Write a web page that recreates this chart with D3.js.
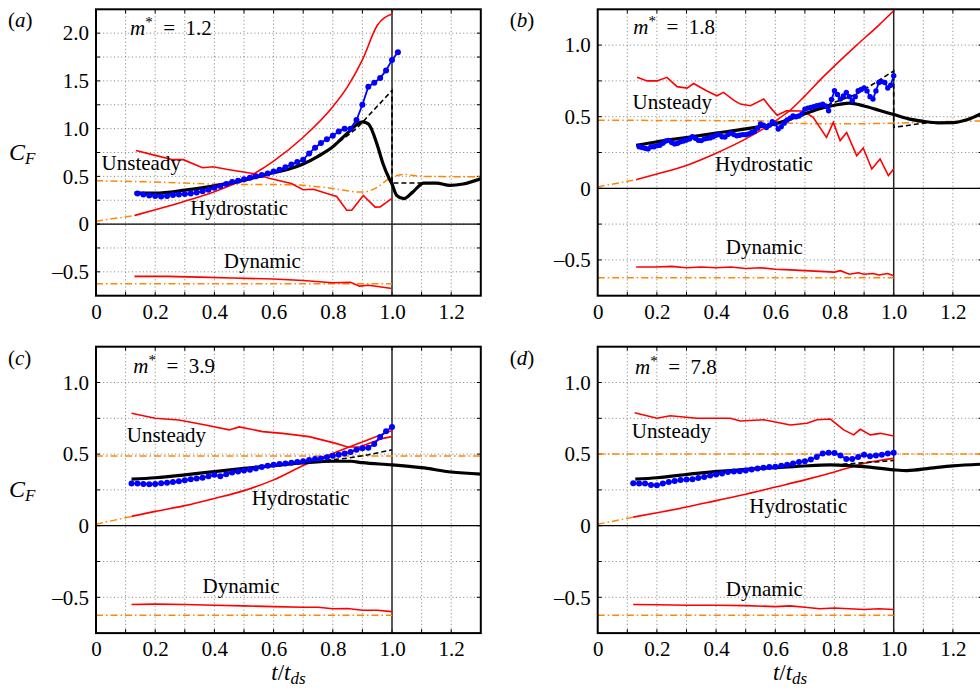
<!DOCTYPE html>
<html>
<head>
<meta charset="utf-8">
<script src="https://cdn.jsdelivr.net/npm/d3@7"></script>
</head>
<body style="margin:0">
<svg id="fig" width="980" height="694"></svg>
<script>
// force coefficient panels, m* = 1.2, 1.8, 3.9, 7.8

var FONT = "Liberation Serif";
var PLOT_W = 384.8;
var PLOT_H = 286.4;
var RED = "#ff0000";
var BLUE = "#0000ff";
var ORANGE = "#ff8800";

var xTickLabels = [0, 0.2, 0.4, 0.6, 0.8, 1.0, 1.2];
var xGrid = [0.1, 0.2, 0.3, 0.4, 0.5, 0.6, 0.7, 0.8, 0.9, 1.1, 1.2];
var yTickLabelsA = [-0.5, 0, 0.5, 1.0, 1.5, 2.0];
var yTickLabels = [-0.5, 0, 0.5, 1.0];

// ---- (a) m* = 1.2
var hydroA = [[0.13,0.09],[0.2,0.15],[0.3,0.24],[0.4,0.34],[0.5,0.47],[0.6,0.66],[0.7,0.91],[0.8,1.23],[0.85,1.44],[0.9,1.72],[0.95,2.08],[1.0,2.20]];
var hydroModelA = [[0,0.03],[0.13,0.09]];
var unsteadyA = [[0.135,0.77],[0.2,0.72],[0.26,0.675],[0.295,0.675],[0.36,0.59],[0.395,0.60],[0.45,0.57],[0.53,0.53],[0.585,0.48],[0.66,0.425],[0.70,0.36],[0.735,0.365],[0.78,0.32],[0.813,0.29],[0.847,0.145],[0.864,0.145],[0.903,0.30],[0.943,0.178],[0.96,0.18],[1.0,0.27]];
var unsteadyModelA = [[0,0.455],[0.2,0.44],[0.42,0.418],[0.66,0.412],[0.77,0.385],[0.9,0.335],[0.95,0.385],[0.99,0.475],[1.04,0.52],[1.1,0.50],[1.3,0.495]];
var dynamicA = [[0.13,-0.548],[0.24,-0.548],[0.35,-0.555],[0.46,-0.565],[0.6,-0.575],[0.7,-0.59],[0.8,-0.615],[0.86,-0.61],[0.89,-0.65],[0.92,-0.64],[0.94,-0.648],[1.0,-0.675]];
var dynamicModelA = [[0,-0.625],[1.0,-0.625]];
var totalModelA = [[0.13,0.325],[0.2,0.325],[0.3,0.355],[0.4,0.40],[0.5,0.46],[0.6,0.54],[0.65,0.575],[0.7,0.63],[0.75,0.71],[0.8,0.81],[0.85,0.955],[0.9,1.07],[0.92,1.05],[0.95,0.83],[0.97,0.63],[0.99,0.48],[1.0,0.42],[1.016,0.30],[1.04,0.266],[1.07,0.335],[1.107,0.43],[1.15,0.43],[1.196,0.405],[1.24,0.42],[1.3,0.475]];
var modelSumA = [[0.8,0.81],[0.88,1.0],[0.94,1.2],[1.0,1.4],[1.0,0.43],[1.1,0.43]];
var measuredA = [0.32,0.31,0.30,0.295,0.29,0.295,0.305,0.31,0.315,0.32,0.33,0.345,0.36,0.38,0.40,0.42,0.44,0.455,0.47,0.485,0.50,0.515,0.53,0.55,0.57,0.595,0.625,0.65,0.675,0.74,0.80,0.85,0.89,0.925,0.97,1.0,1.0,1.09,1.25,1.44,1.48,1.53,1.61,1.72,1.80];

// ---- (b) m* = 1.8
var hydroB = [[0.13,0.06],[0.2,0.10],[0.3,0.16],[0.4,0.245],[0.5,0.345],[0.6,0.47],[0.65,0.545],[0.7,0.645],[0.76,0.775],[0.8,0.855],[0.875,1.0],[0.95,1.14],[1.0,1.24]];
var hydroModelB = [[0,0.01],[0.13,0.06]];
var unsteadyB = [[0.133,0.775],[0.167,0.75],[0.2,0.75],[0.234,0.775],[0.268,0.71],[0.302,0.70],[0.324,0.732],[0.369,0.68],[0.403,0.646],[0.425,0.67],[0.459,0.616],[0.482,0.588],[0.516,0.577],[0.561,0.623],[0.583,0.565],[0.606,0.51],[0.638,0.542],[0.694,0.54],[0.728,0.495],[0.773,0.356],[0.796,0.46],[0.819,0.333],[0.841,0.39],[0.875,0.228],[0.897,0.282],[0.926,0.135],[0.954,0.205],[0.982,0.089],[1.0,0.135]];
var unsteadyModelB = [[0,0.475],[0.6,0.47],[0.65,0.455],[0.8,0.45],[1.0,0.455],[1.1,0.462],[1.3,0.47]];
var dynamicB = [[0.13,-0.55],[0.2,-0.55],[0.25,-0.545],[0.3,-0.555],[0.35,-0.55],[0.4,-0.555],[0.45,-0.55],[0.5,-0.56],[0.55,-0.555],[0.6,-0.565],[0.65,-0.57],[0.7,-0.575],[0.75,-0.58],[0.8,-0.585],[0.82,-0.575],[0.85,-0.6],[0.88,-0.59],[0.9,-0.6],[0.93,-0.595],[0.95,-0.605],[0.98,-0.595],[1.0,-0.61]];
var dynamicModelB = [[0,-0.625],[1.0,-0.625]];
var totalModelB = [[0.13,0.30],[0.2,0.325],[0.3,0.355],[0.4,0.385],[0.5,0.415],[0.6,0.45],[0.7,0.52],[0.75,0.555],[0.8,0.58],[0.85,0.595],[0.9,0.575],[0.95,0.545],[1.0,0.515],[1.05,0.485],[1.1,0.468],[1.15,0.457],[1.2,0.458],[1.25,0.48],[1.3,0.525]];
var modelSumB = [[0.7,0.52],[0.8,0.60],[0.875,0.658],[0.94,0.74],[1.0,0.82],[1.0,0.425],[1.1,0.455],[1.15,0.462]];
var measuredB = [0.29,0.285,0.28,0.275,0.29,0.29,0.298,0.30,0.315,0.33,0.335,0.32,0.31,0.315,0.325,0.33,0.337,0.345,0.36,0.35,0.335,0.333,0.345,0.35,0.352,0.36,0.37,0.375,0.36,0.358,0.375,0.385,0.375,0.367,0.37,0.375,0.374,0.38,0.39,0.397,0.42,0.449,0.44,0.425,0.44,0.465,0.45,0.414,0.43,0.455,0.477,0.49,0.505,0.50,0.505,0.52,0.553,0.56,0.565,0.57,0.577,0.58,0.588,0.575,0.542,0.62,0.681,0.655,0.623,0.645,0.669,0.64,0.611,0.64,0.681,0.69,0.70,0.68,0.64,0.623,0.68,0.739,0.745,0.739,0.70,0.72,0.786];

// ---- (c) m* = 3.9
var hydroC = [[0.12,0.065],[0.2,0.10],[0.3,0.14],[0.4,0.19],[0.5,0.245],[0.6,0.32],[0.7,0.42],[0.8,0.505],[0.9,0.585],[1.0,0.665]];
var hydroModelC = [[0,0.01],[0.12,0.065]];
var unsteadyC = [[0.12,0.785],[0.2,0.75],[0.28,0.738],[0.37,0.703],[0.45,0.669],[0.484,0.69],[0.563,0.657],[0.63,0.645],[0.72,0.622],[0.81,0.575],[0.85,0.55],[0.89,0.55],[0.935,0.585],[0.97,0.61],[1.0,0.622]];
var unsteadyModelC = [[0,0.487],[1.3,0.487]];
var dynamicC = [[0.12,-0.55],[0.2,-0.548],[0.3,-0.55],[0.4,-0.555],[0.5,-0.56],[0.6,-0.565],[0.7,-0.57],[0.75,-0.57],[0.8,-0.58],[0.85,-0.578],[0.9,-0.59],[0.95,-0.59],[1.0,-0.60]];
var dynamicModelC = [[0,-0.625],[1.0,-0.625]];
var totalModelC = [[0.12,0.325],[0.2,0.335],[0.3,0.355],[0.4,0.378],[0.5,0.40],[0.6,0.42],[0.7,0.438],[0.8,0.45],[0.86,0.45],[0.9,0.44],[1.0,0.425],[1.1,0.405],[1.2,0.375],[1.3,0.36]];
var modelSumC = [[0.75,0.45],[0.85,0.472],[0.92,0.495],[1.0,0.53]];
var measuredC = [0.295,0.295,0.292,0.29,0.292,0.296,0.30,0.305,0.31,0.318,0.325,0.33,0.335,0.345,0.355,0.345,0.36,0.372,0.378,0.385,0.39,0.40,0.41,0.418,0.425,0.43,0.435,0.44,0.445,0.45,0.458,0.465,0.47,0.478,0.488,0.495,0.505,0.515,0.53,0.54,0.545,0.57,0.62,0.66,0.69];

// ---- (d) m* = 7.8
var hydroD = [[0.12,0.06],[0.2,0.09],[0.3,0.13],[0.4,0.175],[0.5,0.22],[0.6,0.27],[0.7,0.32],[0.8,0.375],[0.9,0.435],[1.0,0.47]];
var hydroModelD = [[0,0.01],[0.12,0.06]];
var unsteadyD = [[0.125,0.789],[0.2,0.75],[0.245,0.768],[0.335,0.75],[0.448,0.75],[0.482,0.731],[0.561,0.74],[0.651,0.703],[0.707,0.715],[0.741,0.74],[0.786,0.745],[0.831,0.669],[0.865,0.634],[0.887,0.673],[0.921,0.634],[0.955,0.645],[1.0,0.627]];
var unsteadyModelD = [[0,0.50],[1.3,0.50]];
var dynamicD = [[0.12,-0.55],[0.2,-0.552],[0.3,-0.555],[0.4,-0.555],[0.5,-0.558],[0.6,-0.565],[0.65,-0.56],[0.7,-0.57],[0.75,-0.58],[0.8,-0.575],[0.85,-0.58],[0.9,-0.585],[0.95,-0.58],[1.0,-0.585]];
var dynamicModelD = [[0,-0.625],[1.0,-0.625]];
var totalModelD = [[0.127,0.325],[0.2,0.335],[0.335,0.366],[0.45,0.385],[0.561,0.402],[0.68,0.415],[0.786,0.425],[0.85,0.42],[0.899,0.413],[1.0,0.39],[1.045,0.385],[1.124,0.402],[1.2,0.418],[1.3,0.43]];
var modelSumD = [[0.8,0.425],[0.9,0.44],[1.0,0.455]];
var measuredD = [0.297,0.295,0.294,0.285,0.282,0.295,0.305,0.312,0.32,0.322,0.325,0.333,0.34,0.35,0.358,0.365,0.375,0.378,0.38,0.386,0.392,0.40,0.405,0.41,0.412,0.418,0.425,0.435,0.445,0.45,0.462,0.48,0.505,0.51,0.508,0.49,0.465,0.465,0.48,0.495,0.485,0.49,0.495,0.505,0.51];

// sample times of the measured (dotted) series
function sampleTimes(start, step, n) {
	return d3.range(n).map(function(i) { return +(start + i * step).toFixed(3); });
}

function zipT(times, vals) {
	return vals.map(function(v, i) { return [times[i], v]; });
}

var panels = [
	{ id: "a", mstar: "1.2", left: 96, top: 9.3, yDomain: [-0.75, 2.25], yTicks: yTickLabelsA, yLabel: true, xLabel: false,
	  hydro: hydroA, hydroModel: hydroModelA, unsteady: unsteadyA, unsteadyModel: unsteadyModelA,
	  dynamic: dynamicA, dynamicModel: dynamicModelA, total: totalModelA, sum: modelSumA,
	  measured: zipT(sampleTimes(0.14, 0.02, measuredA.length), measuredA), dotR: 3,
	  txt: { u: [0.019, 0.563], h: [0.318, 0.091], d: [0.432, -0.464], m: [0.115, 1.978] } },
	{ id: "b", mstar: "1.8", left: 597.7, top: 9.3, yDomain: [-0.75, 1.25], yTicks: yTickLabels, yLabel: false, xLabel: false,
	  hydro: hydroB, hydroModel: hydroModelB, unsteady: unsteadyB, unsteadyModel: unsteadyModelB,
	  dynamic: dynamicB, dynamicModel: dynamicModelB, total: totalModelB, sum: modelSumB,
	  measured: zipT(sampleTimes(0.14, 0.01, measuredB.length), measuredB), dotR: 2.7,
	  txt: { u: [0.118, 0.554], h: [0.396, 0.123], d: [0.433, -0.458], m: [0.12, 1.077] } },
	{ id: "c", mstar: "3.9", left: 96, top: 346.7, yDomain: [-0.75, 1.25], yTicks: yTickLabels, yLabel: true, xLabel: true,
	  hydro: hydroC, hydroModel: hydroModelC, unsteady: unsteadyC, unsteadyModel: unsteadyModelC,
	  dynamic: dynamicC, dynamicModel: dynamicModelC, total: totalModelC, sum: modelSumC,
	  measured: zipT(sampleTimes(0.12, 0.02, measuredC.length), measuredC), dotR: 3,
	  txt: { u: [0.104, 0.587], h: [0.526, 0.146], d: [0.36, -0.469], m: [0.126, 1.068] } },
	{ id: "d", mstar: "7.8", left: 597.7, top: 346.7, yDomain: [-0.75, 1.25], yTicks: yTickLabels, yLabel: false, xLabel: true,
	  hydro: hydroD, hydroModel: hydroModelD, unsteady: unsteadyD, unsteadyModel: unsteadyModelD,
	  dynamic: dynamicD, dynamicModel: dynamicModelD, total: totalModelD, sum: modelSumD,
	  measured: zipT(sampleTimes(0.12, 0.02, measuredD.length), measuredD), dotR: 3,
	  txt: { u: [0.115, 0.611], h: [0.512, 0.088], d: [0.433, -0.492], m: [0.126, 1.058] } }
];

var svg = d3.select("#fig");

function fmtY(v) {
	if (v == 0) return "0";
	if (v < 0) return "\u2013" + d3.format(".1f")(-v);
	return d3.format(".1f")(v);
}

function fmtX(v) {
	if (v == 0) return "0";
	return d3.format(".1f")(v);
}

function serif(sel, size) {
	return sel.attr("font-family", FONT).attr("font-size", size)
		.style("font-family", FONT).style("font-size", size + "px");
}

function addText(sel, x, y, size) {
	return serif(sel.append("text").attr("x", x).attr("y", y).attr("fill", "#000"), size);
}

function drawPanel(p) {
	var g = svg.append("g").attr("transform", "translate(" + p.left + "," + p.top + ")");

	var x = d3.scaleLinear().domain([0, 1.3]).range([0, PLOT_W]);
	var y = d3.scaleLinear().domain(p.yDomain).range([PLOT_H, 0]);

	g.append("clipPath").attr("id", "clip-" + p.id)
		.append("rect").attr("width", PLOT_W).attr("height", PLOT_H);

	// dotted grid
	var yGrid = d3.range(p.yDomain[0] + 0.25, p.yDomain[1] - 0.01, 0.25);
	g.selectAll(".gx").data(xGrid).enter().append("line")
		.attr("x1", function(d) { return x(d); }).attr("x2", function(d) { return x(d); })
		.attr("y1", 0).attr("y2", PLOT_H)
		.attr("stroke", "#808080").attr("stroke-width", 1).attr("stroke-dasharray", "1,2.6");
	g.selectAll(".gy").data(yGrid).enter().append("line")
		.attr("x1", 0).attr("x2", PLOT_W)
		.attr("y1", function(d) { return y(d); }).attr("y2", function(d) { return y(d); })
		.attr("stroke", "#808080").attr("stroke-width", 1).attr("stroke-dasharray", "1,2.6");

	// inward ticks
	var xt = d3.range(1, 13).map(function(i) { return i / 10; });
	g.selectAll(".tb").data(xt).enter().append("line")
		.attr("x1", function(d) { return x(d); }).attr("x2", function(d) { return x(d); })
		.attr("y1", PLOT_H).attr("y2", PLOT_H - 4).attr("stroke", "#000").attr("stroke-width", 1);
	g.selectAll(".tt").data(xt).enter().append("line")
		.attr("x1", function(d) { return x(d); }).attr("x2", function(d) { return x(d); })
		.attr("y1", 0).attr("y2", 4).attr("stroke", "#000").attr("stroke-width", 1);
	g.selectAll(".tl").data(yGrid).enter().append("line")
		.attr("x1", 0).attr("x2", 4)
		.attr("y1", function(d) { return y(d); }).attr("y2", function(d) { return y(d); })
		.attr("stroke", "#000").attr("stroke-width", 1);
	g.selectAll(".tr").data(yGrid).enter().append("line")
		.attr("x1", PLOT_W).attr("x2", PLOT_W - 4)
		.attr("y1", function(d) { return y(d); }).attr("y2", function(d) { return y(d); })
		.attr("stroke", "#000").attr("stroke-width", 1);

	// zero line and t = t_ds line
	g.append("line").attr("x1", 0).attr("x2", PLOT_W).attr("y1", y(0)).attr("y2", y(0))
		.attr("stroke", "#000").attr("stroke-width", 1.3);
	g.append("line").attr("x1", x(1)).attr("x2", x(1)).attr("y1", 0).attr("y2", PLOT_H)
		.attr("stroke", "#222").attr("stroke-width", 1.5);

	var plot = g.append("g").attr("clip-path", "url(#clip-" + p.id + ")");

	var line = d3.line().x(function(d) { return x(d[0]); }).y(function(d) { return y(d[1]); });
	var smooth = d3.line().curve(d3.curveMonotoneX)
		.x(function(d) { return x(d[0]); }).y(function(d) { return y(d[1]); });

	// model curves (dash-dot orange)
	[p.hydroModel, p.unsteadyModel, p.dynamicModel].forEach(function(s) {
		plot.append("path").attr("d", smooth(s)).attr("fill", "none")
			.attr("stroke", ORANGE).attr("stroke-width", 1.5).attr("stroke-dasharray", "7,3,1.5,3");
	});

	// measured components (red)
	plot.append("path").attr("d", smooth(p.hydro)).attr("fill", "none").attr("stroke", RED).attr("stroke-width", 1.6);
	plot.append("path").attr("d", line(p.unsteady)).attr("fill", "none").attr("stroke", RED).attr("stroke-width", 1.6);
	plot.append("path").attr("d", line(p.dynamic)).attr("fill", "none").attr("stroke", RED).attr("stroke-width", 1.6);

	// sum of models (dashed) and total model (thick black)
	plot.append("path").attr("d", line(p.sum)).attr("fill", "none")
		.attr("stroke", "#000").attr("stroke-width", 1.6).attr("stroke-dasharray", "5,3");
	plot.append("path").attr("d", smooth(p.total)).attr("fill", "none")
		.attr("stroke", "#000").attr("stroke-width", 3.2);

	// measured total (blue dots)
	plot.append("path").attr("d", line(p.measured)).attr("fill", "none").attr("stroke", BLUE).attr("stroke-width", 1.8);
	plot.selectAll("circle").data(p.measured).enter().append("circle")
		.attr("cx", function(d) { return x(d[0]); })
		.attr("cy", function(d) { return y(d[1]); })
		.attr("r", p.dotR).attr("fill", BLUE);

	// frame
	g.append("rect").attr("width", PLOT_W).attr("height", PLOT_H)
		.attr("fill", "none").attr("stroke", "#000").attr("stroke-width", 2);

	// tick labels
	var xa = g.append("g").attr("transform", "translate(0," + PLOT_H + ")")
		.call(d3.axisBottom(x).tickValues(xTickLabels).tickFormat(fmtX).tickSize(0).tickPadding(8));
	xa.select(".domain").remove();
	serif(xa, 21);
	serif(xa.selectAll("text"), 21);

	var ya = g.append("g")
		.call(d3.axisLeft(y).tickValues(p.yTicks).tickFormat(fmtY).tickSize(0).tickPadding(7));
	ya.select(".domain").remove();
	serif(ya, 21);
	serif(ya.selectAll("text"), 21);

	// curve names
	addText(g, x(p.txt.u[0]), y(p.txt.u[1]), 21).text("Unsteady");
	addText(g, x(p.txt.h[0]), y(p.txt.h[1]), 21).text("Hydrostatic");
	addText(g, x(p.txt.d[0]), y(p.txt.d[1]), 21).text("Dynamic");

	var m = addText(g, x(p.txt.m[0]), y(p.txt.m[1]), 21);
	m.append("tspan").attr("font-style", "italic").text("m");
	m.append("tspan").attr("dy", -8).attr("font-size", 15).style("font-size", "15px").text("*");
	m.append("tspan").attr("dy", 8).text("\u2002=\u2002" + p.mstar);

	// panel letter
	var lab = addText(svg, p.left - 88, p.top + 18, 21);
	lab.append("tspan").text("(");
	lab.append("tspan").attr("font-style", "italic").text(p.id);
	lab.append("tspan").text(")");

	if (p.yLabel) {
		var cf = addText(svg, 9, p.top + 150.5, 24);
		cf.append("tspan").attr("font-style", "italic").text("C");
		cf.append("tspan").attr("font-style", "italic").attr("font-size", 17).style("font-size", "17px").attr("dy", 4).text("F");
	}

	if (p.xLabel) {
		var xl = addText(svg, p.left + PLOT_W / 2, 680, 23).attr("text-anchor", "middle");
		xl.append("tspan").attr("font-style", "italic").text("t");
		xl.append("tspan").text("/");
		xl.append("tspan").attr("font-style", "italic").text("t");
		xl.append("tspan").attr("font-style", "italic").attr("font-size", 17).style("font-size", "17px").attr("dy", 4).text("ds");
	}
}

panels.forEach(drawPanel);
</script>
</body>
</html>
